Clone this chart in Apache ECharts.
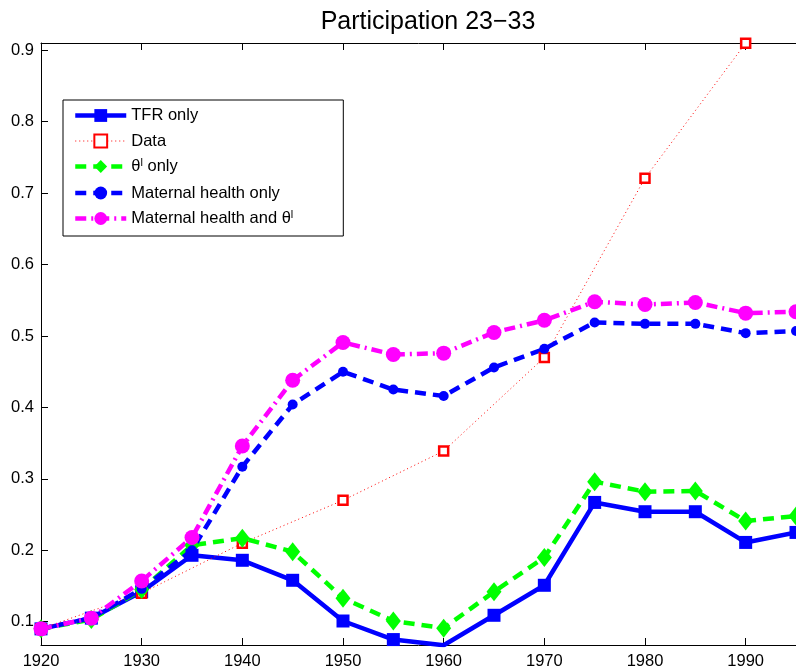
<!DOCTYPE html>
<html>
<head>
<meta charset="utf-8">
<script src="https://cdn.jsdelivr.net/npm/echarts@6/dist/echarts.min.js"></script>
<style>
  html, body { margin: 0; padding: 0; background: #fff; }
  #chart { width: 796px; height: 671px; }
</style>
</head>
<body>
<div id="chart"></div>
<script>
// five-year cohorts, 1920..1995
const years = [1920, 1925, 1930, 1935, 1940, 1945, 1950, 1955, 1960, 1965, 1970, 1975, 1980, 1985, 1990, 1995]
const tfrOnly = [0.090, 0.105, 0.142, 0.193, 0.186, 0.158, 0.101, 0.075, 0.067, 0.109, 0.151, 0.267, 0.254, 0.254, 0.211, 0.225]
const thetaOnly = [0.090, 0.103, 0.145, 0.207, 0.217, 0.198, 0.133, 0.101, 0.091, 0.142, 0.190, 0.296, 0.282, 0.283, 0.241, 0.248]
const healthOnly = [0.090, 0.105, 0.146, 0.200, 0.317, 0.404, 0.450, 0.425, 0.416, 0.456, 0.482, 0.519, 0.517, 0.517, 0.504, 0.507]
const healthTheta = [0.090, 0.105, 0.157, 0.218, 0.346, 0.438, 0.491, 0.474, 0.476, 0.505, 0.522, 0.548, 0.544, 0.547, 0.532, 0.534]
// observed data, ten-year cohorts
const dataYears = [1920, 1930, 1940, 1950, 1960, 1970, 1980, 1990]
const dataValues = [0.090, 0.140, 0.210, 0.270, 0.339, 0.470, 0.721, 0.910]
const yTicks = [0.1, 0.2, 0.3, 0.4, 0.5, 0.6, 0.7, 0.8, 0.9]

const pairs = (xs, ys) => xs.map((x, i) => [x, ys[i]])
const FONT = '"Liberation Sans", Arial, Helvetica, sans-serif'

const chart = echarts.init(document.getElementById('chart'), null, { renderer: 'canvas' })

const xBase = {
  type: 'value', min: 1920, max: 1995, interval: 10,
  axisLine: { lineStyle: { color: '#000', width: 1 } },
  axisTick: { inside: true, length: 7, lineStyle: { color: '#000' } },
  splitLine: { show: false },
}

chart.setOption({
  backgroundColor: '#fff',
  animation: false,
  title: {
    text: 'Participation 23\u221233', left: 423, top: 5, textAlign: 'center',
    textStyle: { fontFamily: FONT, fontSize: 25, fontWeight: 'normal', color: '#000' },
  },
  grid: { left: 41, top: 43, width: 765, height: 602 },
  legend: {
    orient: 'vertical', left: 63, top: 100,
    padding: [6, 50, 7, 10], itemGap: 6.5, itemWidth: 51, itemHeight: 16,
    backgroundColor: '#fff', borderColor: '#000', borderWidth: 1,
    lineStyle: { width: 'inherit' },
    textStyle: {
      fontFamily: FONT, fontSize: 16.5, lineHeight: 19, color: '#000',
      rich: {
        sup: { fontFamily: FONT, fontSize: 11, lineHeight: 19, verticalAlign: 'top', padding: [0, 0, 9, 0], color: '#000' },
      },
    },
    formatter: (name) => name.replace('θl', 'θ{sup|l}'),
    data: ['TFR only', 'Data', 'θl only', 'Maternal health only', 'Maternal health and θl'],
  },
  xAxis: [
    { ...xBase, position: 'bottom',
      axisLabel: { fontFamily: FONT, fontSize: 16.5, color: '#000', margin: 8, showMaxLabel: false,
        formatter: (v) => String(v) } },
    { ...xBase, position: 'top', axisLabel: { show: false } },
  ],
  yAxis: {
    type: 'value', min: 0.0674, max: 0.9102,
    axisLine: { show: true, lineStyle: { color: '#000', width: 1 } },
    axisTick: { inside: true, length: 7, customValues: yTicks, lineStyle: { color: '#000' } },
    axisLabel: { customValues: yTicks, fontFamily: FONT, fontSize: 16.5, color: '#000', margin: 7,
      formatter: (v) => v.toFixed(1) },
    splitLine: { show: false },
  },
  series: [
    {
      name: 'TFR only', type: 'line', data: pairs(years, tfrOnly),
      symbol: 'rect', symbolSize: 13,
      lineStyle: { color: '#0000ff', width: 4.5 },
      itemStyle: { color: '#0000ff' },
    },
    {
      name: 'Data', type: 'line', data: pairs(dataYears, dataValues),
      symbol: 'rect', symbolSize: 9,
      lineStyle: { color: '#ff0000', width: 1, type: [1, 3] },
      itemStyle: { color: '#fff', borderColor: '#ff0000', borderWidth: 2.5 },
    },
    {
      name: 'θl only', type: 'line', data: pairs(years, thetaOnly),
      symbol: 'diamond', symbolSize: [15, 19],
      lineStyle: { color: '#00ff00', width: 4.5, type: [11, 7] },
      itemStyle: { color: '#00ff00' },
    },
    {
      name: 'Maternal health only', type: 'line', data: pairs(years, healthOnly),
      symbol: 'circle', symbolSize: 10,
      lineStyle: { color: '#0000ff', width: 4.5, type: [11, 7] },
      itemStyle: { color: '#0000ff' },
    },
    {
      name: 'Maternal health and θl', type: 'line', data: pairs(years, healthTheta),
      symbol: 'circle', symbolSize: 15,
      lineStyle: { color: '#ff00ff', width: 4.5, type: [11, 5, 2, 5] },
      itemStyle: { color: '#ff00ff' },
    },
  ],
})
</script>
</body>
</html>
